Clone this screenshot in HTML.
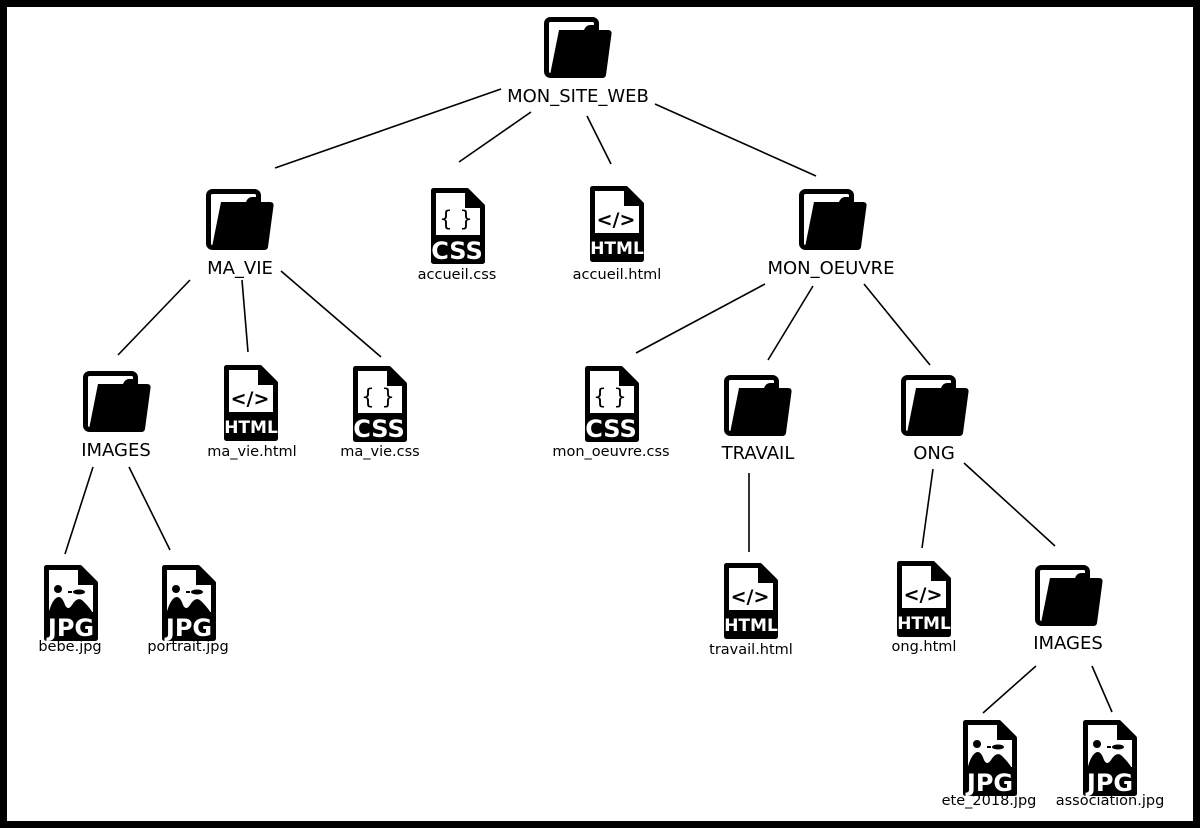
<!DOCTYPE html>
<html><head><meta charset="utf-8"><style>
html,body{margin:0;padding:0;background:#fff}
svg{display:block}
text{font-family:"DejaVu Sans","Liberation Sans",sans-serif;fill:#000}
.lbl{font-size:18px;text-anchor:middle}
.fl{font-size:14.5px;text-anchor:middle}
.bt{font-family:"DejaVu Sans","Liberation Sans",sans-serif;font-weight:bold;fill:#fff;text-anchor:middle}
</style></head><body>
<svg width="1200" height="828" viewBox="0 0 1200 828" xmlns="http://www.w3.org/2000/svg">
<rect x="3.5" y="3.5" width="1193" height="821" fill="#fff" stroke="#000" stroke-width="7"/>
<defs>
<g id="folder">
<rect x="2.5" y="2.5" width="50" height="56" rx="4" fill="#fff" stroke="#000" stroke-width="5"/>
<path d="M15,13 H40 Q42,8 46,8 H50 Q53,8 54,13 H64 Q68,13 67.5,17 L62,58 Q61.5,61 58,61 H8 Q5,61 6,58 Z" fill="#000"/>
</g>
<g id="file">
<path d="M2.5,2.5 H36 L51.5,18 V73.5 H2.5 Z" fill="#fff" stroke="#000" stroke-width="5" stroke-linejoin="round"/>
<path d="M34,2 L52,20 H34 Z" fill="#000"/>
<rect x="2" y="47" width="50" height="27" fill="#000"/>
</g>
<g id="jpgimg">
<circle cx="14" cy="24" r="4" fill="#000"/>
<ellipse cx="35" cy="27" rx="6" ry="2.5" fill="#000"/>
<rect x="24" y="26" width="4" height="2" fill="#000"/>
<path d="M4,50 Q7,38 11,34 Q17,28 21,40 Q24,46 28,40 Q34,30 40,37 Q47,44 50,50 Z" fill="#000"/>
</g>
</defs>
<g stroke="#000" stroke-width="1.6" fill="none">
<line x1="501" y1="89" x2="275" y2="168"/>
<line x1="531" y1="112" x2="459" y2="162"/>
<line x1="587" y1="116" x2="611" y2="164"/>
<line x1="655" y1="104" x2="816" y2="176"/>
<line x1="190" y1="280" x2="118" y2="355"/>
<line x1="242" y1="280" x2="248" y2="352"/>
<line x1="281" y1="271" x2="381" y2="357"/>
<line x1="765" y1="284" x2="636" y2="353"/>
<line x1="813" y1="286" x2="768" y2="360"/>
<line x1="864" y1="284" x2="930" y2="365"/>
<line x1="93" y1="467" x2="65" y2="554"/>
<line x1="129" y1="467" x2="170" y2="550"/>
<line x1="749" y1="473" x2="749" y2="552"/>
<line x1="933" y1="469" x2="922" y2="548"/>
<line x1="964" y1="463" x2="1055" y2="546"/>
<line x1="1036" y1="666" x2="983" y2="713"/>
<line x1="1092" y1="666" x2="1112" y2="712"/>
</g>
<use href="#folder" x="544" y="17"/><text class="lbl" x="578" y="102">MON_SITE_WEB</text>
<use href="#folder" x="206" y="189"/><text class="lbl" x="240" y="274">MA_VIE</text>
<use href="#folder" x="799" y="189"/><text class="lbl" x="831" y="274">MON_OEUVRE</text>
<use href="#folder" x="83" y="371"/><text class="lbl" x="116" y="456">IMAGES</text>
<use href="#folder" x="724" y="375"/><text class="lbl" x="758" y="459">TRAVAIL</text>
<use href="#folder" x="901" y="375"/><text class="lbl" x="934" y="459">ONG</text>
<use href="#folder" x="1035" y="565"/><text class="lbl" x="1068" y="649">IMAGES</text>
<g transform="translate(431,188)"><use href="#file"/><text x="25" y="38" font-size="21" text-anchor="middle">{ }</text><text class="bt" x="26" y="71" font-size="24">CSS</text></g>
<text class="fl" x="457" y="279">accueil.css</text>
<g transform="translate(353,366)"><use href="#file"/><text x="25" y="38" font-size="21" text-anchor="middle">{ }</text><text class="bt" x="26" y="71" font-size="24">CSS</text></g>
<text class="fl" x="380" y="456">ma_vie.css</text>
<g transform="translate(585,366)"><use href="#file"/><text x="25" y="38" font-size="21" text-anchor="middle">{ }</text><text class="bt" x="26" y="71" font-size="24">CSS</text></g>
<text class="fl" x="611" y="456">mon_oeuvre.css</text>
<g transform="translate(590,186)"><use href="#file"/><text x="26" y="40" font-size="19" font-weight="bold" text-anchor="middle">&lt;/&gt;</text><text class="bt" x="27" y="68" font-size="17">HTML</text></g>
<text class="fl" x="617" y="279">accueil.html</text>
<g transform="translate(224,365)"><use href="#file"/><text x="26" y="40" font-size="19" font-weight="bold" text-anchor="middle">&lt;/&gt;</text><text class="bt" x="27" y="68" font-size="17">HTML</text></g>
<text class="fl" x="252" y="456">ma_vie.html</text>
<g transform="translate(724,563)"><use href="#file"/><text x="26" y="40" font-size="19" font-weight="bold" text-anchor="middle">&lt;/&gt;</text><text class="bt" x="27" y="68" font-size="17">HTML</text></g>
<text class="fl" x="751" y="654">travail.html</text>
<g transform="translate(897,561)"><use href="#file"/><text x="26" y="40" font-size="19" font-weight="bold" text-anchor="middle">&lt;/&gt;</text><text class="bt" x="27" y="68" font-size="17">HTML</text></g>
<text class="fl" x="924" y="651">ong.html</text>
<g transform="translate(44,565)"><use href="#file"/><use href="#jpgimg"/><text class="bt" x="27" y="71" font-size="24">JPG</text></g>
<text class="fl" x="70" y="651">bebe.jpg</text>
<g transform="translate(162,565)"><use href="#file"/><use href="#jpgimg"/><text class="bt" x="27" y="71" font-size="24">JPG</text></g>
<text class="fl" x="188" y="651">portrait.jpg</text>
<g transform="translate(963,720)"><use href="#file"/><use href="#jpgimg"/><text class="bt" x="27" y="71" font-size="24">JPG</text></g>
<text class="fl" x="989" y="805">ete_2018.jpg</text>
<g transform="translate(1083,720)"><use href="#file"/><use href="#jpgimg"/><text class="bt" x="27" y="71" font-size="24">JPG</text></g>
<text class="fl" x="1110" y="805">association.jpg</text>
</svg>
</body></html>
